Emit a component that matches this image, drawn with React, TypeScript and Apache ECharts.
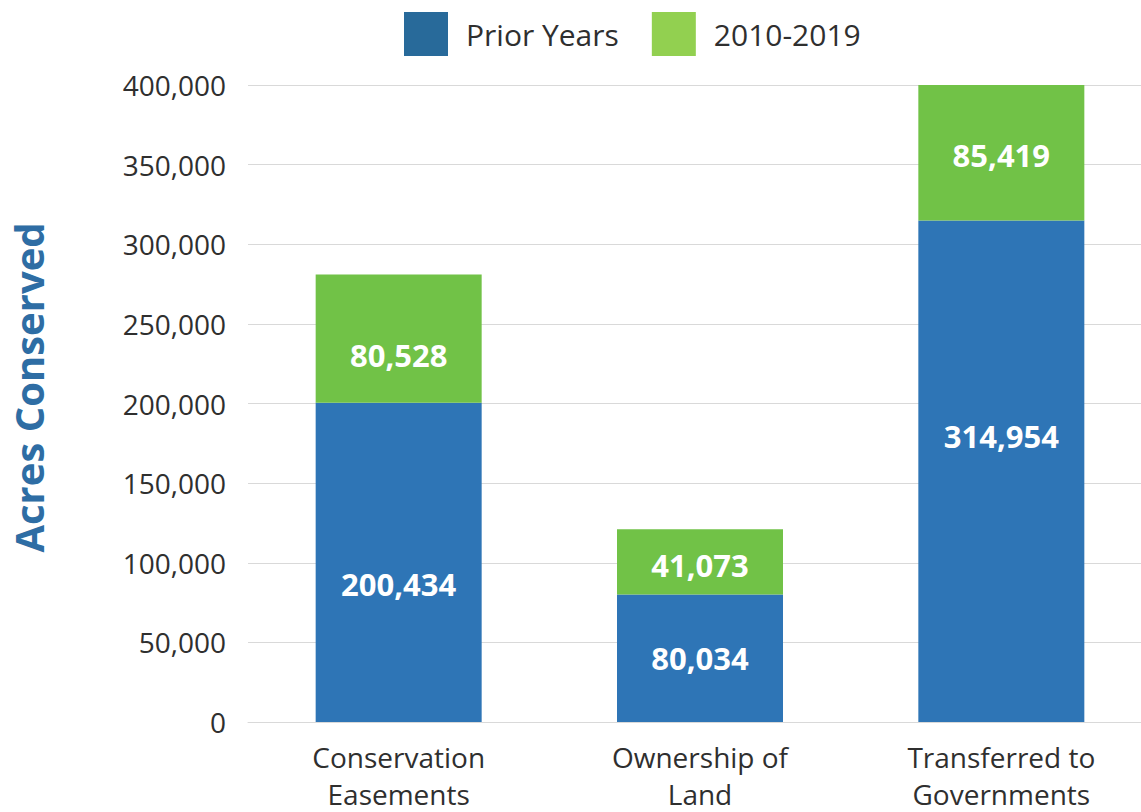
import React, { useEffect, useRef } from "react";
import * as echarts from "echarts";

const categories = ["Conservation\nEasements", "Ownership of\nLand", "Transferred to\nGovernments"];
const priorYears = [200434, 80034, 314954];
const recentYears = [80528, 41073, 85419];
const seriesNames = ["Prior Years", "2010-2019"];
const yTicks = { min: 0, max: 400000, interval: 50000 };

// label nudges (px) to mimic the reference's label placement
const priorLabelOffsets = [22, 0, -35];
const recentLabelOffsets = [16, 3, 2];

const FONT = "'Open Sans', 'Noto Sans', sans-serif";
const TEXT = "#2f2f2f";
const fmt = (v: number) => v.toLocaleString("en-US");

export default function App() {
  const ref = useRef<HTMLDivElement>(null);
  useEffect(() => {
    if (!ref.current) return;
    document.documentElement.style.overflow = "hidden";
    document.body.style.overflow = "hidden";
    document.body.style.margin = "0";
    const chart = echarts.init(ref.current, null, { renderer: "svg" });
    const barLabel = {
      show: true,
      position: "inside",
      color: "#ffffff",
      fontFamily: FONT,
      fontWeight: "bold",
      fontSize: 31,
      formatter: (p: any) => fmt(p.value),
    };
    chart.setOption({
      animation: false,
      backgroundColor: "#ffffff",
      textStyle: { fontFamily: FONT },
      legend: {
        left: 399,
        top: 7,
        itemWidth: 44,
        itemHeight: 44,
        itemGap: 33,
        icon: "rect",
        textStyle: { fontSize: 30, color: TEXT, fontFamily: FONT, padding: [16, 0, 0, 13] },
        data: [
          { name: seriesNames[0], itemStyle: { color: "#286A9A" } },
          { name: seriesNames[1], itemStyle: { color: "#92D050" } },
        ],
      },
      grid: { left: 245, right: 0, top: 85, bottom: 85, containLabel: false },
      xAxis: {
        type: "category",
        data: categories,
        axisLine: { show: true, lineStyle: { color: "#d9d9d9", width: 1 } },
        axisTick: { show: false },
        axisLabel: {
          fontSize: 28,
          color: TEXT,
          fontFamily: FONT,
          lineHeight: 37,
          margin: 16,
          interval: 0,
        },
      },
      yAxis: {
        type: "value",
        min: yTicks.min,
        max: yTicks.max,
        interval: yTicks.interval,
        name: "Acres Conserved",
        nameLocation: "middle",
        nameGap: 200,
        nameTextStyle: {
          fontSize: 40,
          fontWeight: "bold",
          color: "#2E6DA4",
          fontFamily: FONT,
          padding: [0, 0, 0, 32],
        },
        axisLine: { show: false },
        axisTick: { show: false },
        splitLine: { lineStyle: { color: "#d9d9d9", width: 1 } },
        axisLabel: {
          fontSize: 28,
          color: TEXT,
          fontFamily: FONT,
          margin: 22,
          formatter: (v: number) => fmt(v),
        },
      },
      series: [
        {
          name: seriesNames[0],
          type: "bar",
          stack: "total",
          barWidth: 166,
          itemStyle: { color: "#2E75B6" },
          data: priorYears.map((v, i) => ({ value: v, label: { ...barLabel, offset: [0, priorLabelOffsets[i]] } })),
          label: barLabel,
        },
        {
          name: seriesNames[1],
          type: "bar",
          stack: "total",
          barWidth: 166,
          itemStyle: { color: "#71C247" },
          data: recentYears.map((v, i) => ({ value: v, label: { ...barLabel, offset: [0, recentLabelOffsets[i]] } })),
          label: barLabel,
        },
      ],
    });
    return () => chart.dispose();
  }, []);
  return <div ref={ref} style={{ position: "fixed", left: 0, top: 0, width: 1152, height: 812 }} />;
}
